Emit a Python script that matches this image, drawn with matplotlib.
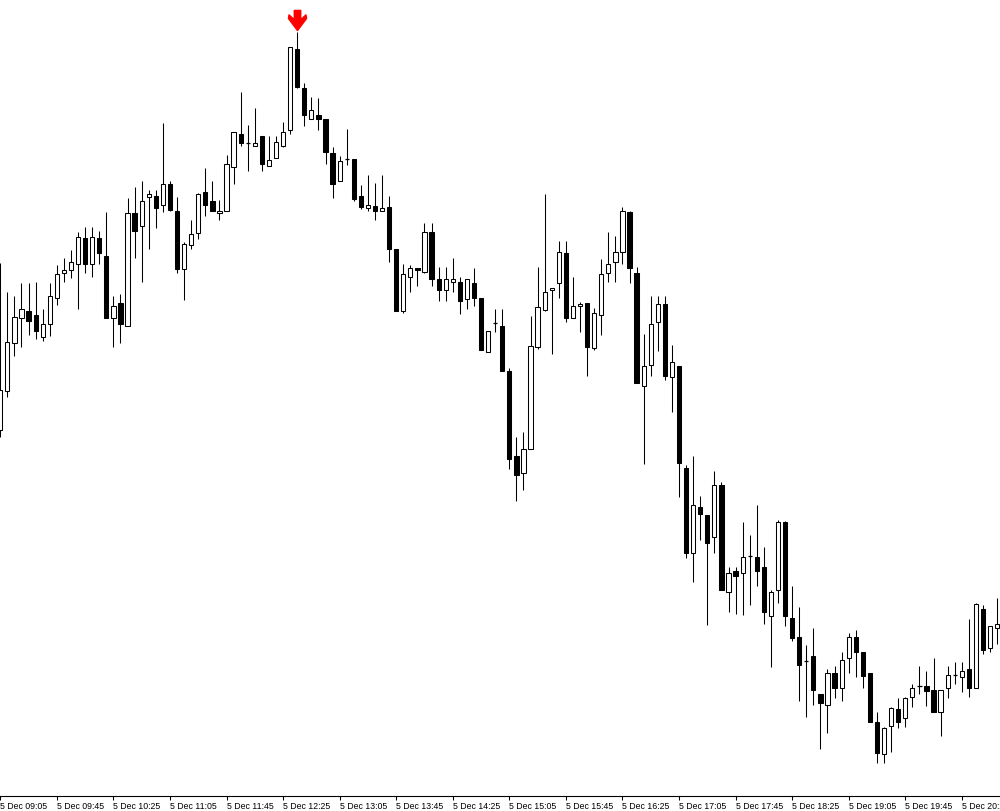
import matplotlib
matplotlib.use("Agg")
import matplotlib.pyplot as plt
from matplotlib.patches import Rectangle
from matplotlib.path import Path
import pandas as pd

# === DATA: 5 minute bars, 5 Dec ===
START = "2022-12-05 09:05"
BAR_MINUTES = 5

open_ = [
    130.370, 130.409, 130.457, 130.482, 130.489, 130.485, 130.463, 130.476, 130.502, 130.527,
    130.530, 130.536, 130.562, 130.536, 130.562, 130.544, 130.482, 130.497, 130.474, 130.587,
    130.574, 130.603, 130.604, 130.595, 130.616, 130.589, 130.531, 130.555, 130.567, 130.608,
    130.599, 130.587, 130.589, 130.633, 130.666, 130.657, 130.654, 130.664, 130.634, 130.642,
    130.654, 130.670, 130.751, 130.712, 130.681, 130.685, 130.681, 130.647, 130.619, 130.641,
    130.641, 130.604, 130.592, 130.594, 130.589, 130.593, 130.551, 130.489, 130.523, 130.532,
    130.528, 130.568, 130.521, 130.510, 130.518, 130.518, 130.501, 130.517, 130.502, 130.448,
    130.477, 130.474, 130.429, 130.344, 130.327, 130.351, 130.453, 130.490, 130.510, 130.517,
    130.547, 130.482, 130.494, 130.497, 130.452, 130.485, 130.527, 130.538, 130.548, 130.588,
    130.527, 130.414, 130.435, 130.478, 130.496, 130.423, 130.434, 130.332, 130.247, 130.293,
    130.285, 130.263, 130.315, 130.208, 130.229, 130.227, 130.244, 130.243, 130.233, 130.184,
    130.210, 130.278, 130.182, 130.163, 130.139, 130.144, 130.106, 130.095, 130.127, 130.112,
    130.142, 130.163, 130.148, 130.127, 130.078, 130.046, 130.074, 130.091, 130.082, 130.103,
    130.114, 130.114, 130.110, 130.088, 130.112, 130.125, 130.123, 130.131, 130.112, 130.191,
    130.152, 130.172,
]
high = [
    130.537, 130.508, 130.504, 130.517, 130.517, 130.518, 130.491, 130.517, 130.535, 130.542,
    130.550, 130.568, 130.573, 130.573, 130.569, 130.588, 130.504, 130.506, 130.602, 130.613,
    130.619, 130.610, 130.610, 130.677, 130.619, 130.603, 130.558, 130.580, 130.607, 130.632,
    130.619, 130.600, 130.645, 130.668, 130.708, 130.675, 130.692, 130.664, 130.664, 130.664,
    130.678, 130.753, 130.768, 130.717, 130.703, 130.702, 130.681, 130.653, 130.644, 130.671,
    130.641, 130.615, 130.625, 130.617, 130.625, 130.604, 130.551, 130.536, 130.535, 130.532,
    130.577, 130.577, 130.533, 130.533, 130.542, 130.523, 130.521, 130.532, 130.502, 130.469,
    130.491, 130.491, 130.432, 130.363, 130.368, 130.484, 130.533, 130.606, 130.512, 130.559,
    130.559, 130.523, 130.498, 130.497, 130.492, 130.541, 130.568, 130.564, 130.593, 130.589,
    130.533, 130.466, 130.504, 130.504, 130.504, 130.455, 130.434, 130.335, 130.344, 130.304,
    130.285, 130.329, 130.318, 130.233, 130.233, 130.278, 130.265, 130.295, 130.253, 130.210,
    130.280, 130.279, 130.214, 130.193, 130.155, 130.172, 130.106, 130.131, 130.134, 130.148,
    130.167, 130.170, 130.148, 130.127, 130.088, 130.073, 130.093, 130.102, 130.103, 130.116,
    130.134, 130.129, 130.142, 130.110, 130.134, 130.138, 130.138, 130.181, 130.197, 130.195,
    130.174, 130.202,
]
low = [
    130.363, 130.403, 130.444, 130.453, 130.465, 130.461, 130.459, 130.464, 130.495, 130.518,
    130.522, 130.491, 130.527, 130.523, 130.536, 130.482, 130.453, 130.457, 130.474, 130.542,
    130.518, 130.551, 130.572, 130.588, 130.589, 130.527, 130.500, 130.551, 130.561, 130.584,
    130.589, 130.580, 130.589, 130.616, 130.654, 130.629, 130.654, 130.629, 130.634, 130.642,
    130.653, 130.666, 130.712, 130.674, 130.681, 130.670, 130.636, 130.602, 130.619, 130.635,
    130.599, 130.591, 130.589, 130.580, 130.589, 130.538, 130.489, 130.487, 130.508, 130.514,
    130.527, 130.514, 130.499, 130.499, 130.508, 130.486, 130.491, 130.494, 130.450, 130.448,
    130.468, 130.429, 130.331, 130.299, 130.310, 130.351, 130.451, 130.489, 130.446, 130.502,
    130.478, 130.482, 130.468, 130.424, 130.450, 130.465, 130.518, 130.518, 130.536, 130.517,
    130.417, 130.336, 130.424, 130.449, 130.420, 130.388, 130.303, 130.242, 130.218, 130.260,
    130.175, 130.247, 130.210, 130.188, 130.186, 130.185, 130.195, 130.214, 130.176, 130.133,
    130.197, 130.174, 130.159, 130.099, 130.083, 130.095, 130.051, 130.067, 130.102, 130.099,
    130.127, 130.123, 130.112, 130.078, 130.037, 130.037, 130.048, 130.072, 130.073, 130.093,
    130.106, 130.094, 130.088, 130.064, 130.102, 130.116, 130.108, 130.103, 130.112, 130.146,
    130.148, 130.156,
]
close = [
    130.410, 130.458, 130.483, 130.491, 130.479, 130.469, 130.476, 130.504, 130.526, 130.530,
    130.538, 130.563, 130.536, 130.563, 130.547, 130.482, 130.494, 130.476, 130.587, 130.569,
    130.599, 130.606, 130.592, 130.616, 130.590, 130.531, 130.556, 130.566, 130.606, 130.595,
    130.589, 130.589, 130.636, 130.668, 130.657, 130.657, 130.657, 130.636, 130.640, 130.658,
    130.668, 130.753, 130.713, 130.685, 130.690, 130.681, 130.648, 130.616, 130.639, 130.641,
    130.601, 130.593, 130.595, 130.589, 130.592, 130.551, 130.489, 130.526, 130.532, 130.530,
    130.568, 130.521, 130.510, 130.521, 130.521, 130.499, 130.521, 130.502, 130.450, 130.469,
    130.477, 130.429, 130.341, 130.325, 130.351, 130.454, 130.493, 130.508, 130.512, 130.548,
    130.482, 130.494, 130.496, 130.453, 130.487, 130.526, 130.536, 130.548, 130.589, 130.532,
    130.417, 130.434, 130.476, 130.496, 130.424, 130.438, 130.337, 130.247, 130.295, 130.286,
    130.257, 130.315, 130.210, 130.227, 130.224, 130.243, 130.244, 130.229, 130.188, 130.208,
    130.278, 130.184, 130.162, 130.135, 130.139, 130.110, 130.097, 130.127, 130.112, 130.140,
    130.163, 130.148, 130.124, 130.078, 130.047, 130.072, 130.092, 130.078, 130.102, 130.112,
    130.114, 130.109, 130.088, 130.110, 130.125, 130.125, 130.129, 130.112, 130.196, 130.150,
    130.174, 130.176,
]

# sell signal arrow
SIGNAL_BAR = 42
SIGNAL_PRICE = 130.780

LABEL_EVERY = 8          # one time label every 40 minutes
PRICE_MIN, PRICE_MAX = 130.004, 130.800

times = pd.date_range(START, periods=len(open_), freq=f"{BAR_MINUTES}min")

fig = plt.figure(figsize=(10, 8.11), dpi=100, facecolor="white")
ax = fig.add_axes([0, 15 / 811, 1, 796 / 811])
ax.set_facecolor("white")

# wicks
ax.vlines(range(len(open_)), low, high, color="black", lw=0.75, zorder=1)

# bodies
w = 0.6
for i, (o, c) in enumerate(zip(open_, close)):
    if abs(c - o) < 1e-9:
        ax.hlines(o, i - w / 2, i + w / 2, color="black", lw=0.9, zorder=2)
        continue
    face = "white" if c > o else "black"
    ax.add_patch(Rectangle((i - w / 2, min(o, c)), w, abs(c - o),
                           facecolor=face, edgecolor="black", lw=0.75, zorder=2))

# red down arrow above the signal bar
verts = [(-0.16, 0.5), (0.16, 0.5), (0.16, 0.04), (0.42, 0.28), (0.45, 0.1),
         (0.0, -0.5), (-0.45, 0.1), (-0.42, 0.28), (-0.16, 0.04), (-0.16, 0.5)]
arrow = Path(verts, closed=True)
ax.plot(SIGNAL_BAR, SIGNAL_PRICE, marker=arrow, ms=14.5, color="#ff0000",
        mec="#ff0000", ls="none", zorder=3)

ax.set_xlim(-0.04, 141.4)
ax.set_ylim(PRICE_MIN, PRICE_MAX)

ticks = list(range(0, len(open_), LABEL_EVERY))
ax.set_xticks(ticks)
ax.set_xticklabels([f"{times[t].day} {times[t]:%b %H:%M}" for t in ticks],
                   fontfamily="Liberation Sans", fontsize=6.3)
for lab in ax.get_xticklabels():
    lab.set_ha("left")
ax.tick_params(axis="x", direction="out", length=3, width=0.75, pad=1.5, colors="black")
ax.set_yticks([])

for s in ("top", "right", "left"):
    ax.spines[s].set_visible(False)
ax.spines["bottom"].set_linewidth(0.8)
ax.spines["bottom"].set_color("black")

plt.savefig("out.png", dpi=100, facecolor="white")
plt.close(fig)
